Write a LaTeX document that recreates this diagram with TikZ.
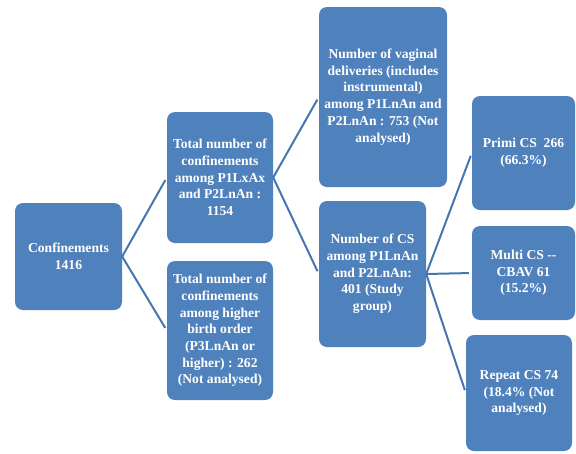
\documentclass[tikz,border=0pt]{standalone}
\usepackage{fontspec}
\setmainfont{Liberation Serif}
\usetikzlibrary{positioning}
\definecolor{boxblue}{HTML}{4F81BD}
\definecolor{lineblue}{HTML}{4676B0}

\begin{document}
\begin{tikzpicture}[x=1pt,y=-1pt,
  box/.style={fill=boxblue, rounded corners=8pt, text=white, align=center,
    inner sep=0pt, font=\fontsize{13.6}{16.7}\selectfont\bfseries},
  link/.style={draw=lineblue, line width=2pt, shorten >=3pt}]
  \useasboundingbox (0,0) rectangle (576,453);
  % first level
  \node[box, minimum width=107pt, minimum height=107pt] (conf) at (68.5,256.5) {Confinements\\1416};
  % second level
  \node[box, minimum width=106pt, minimum height=131pt] (lowbo) at (220,177.5)
    {Total number of\\confinements\\among P1LxAx\\and P2LnAn :\\1154};
  \node[box, minimum width=106pt, minimum height=139pt] (highbo) at (220,330.5)
    {Total number of\\confinements\\among higher\\birth order\\(P3LnAn or\\higher) : 262\\(Not analysed)};
  % third level
  \node[box, minimum width=128pt, minimum height=180pt] (vag) at (383,97)
    {Number of vaginal\\deliveries (includes\\instrumental)\\among P1LnAn and\\P2LnAn : 753 (Not\\analysed)};
  \node[box, minimum width=107pt, minimum height=146pt] (cs) at (372.5,274)
    {Number of CS\\among P1LnAn\\and P2LnAn:\\401 (Study\\group)};
  % fourth level
  \node[box, minimum width=103pt, minimum height=114pt] (primi) at (523.5,153)
    {Primi CS~ 266\\(66.3\%)};
  \node[box, minimum width=103pt, minimum height=94pt] (multi) at (523.5,273)
    {Multi CS -{}-\\CBAV 61\\(15.2\%)};
  \node[box, minimum width=106pt, minimum height=116pt] (rep) at (519,393)
    {Repeat CS 74\\(18.4\% (Not\\analysed)};

  \draw[link] (conf.east) -- (lowbo.west);
  \draw[link] (conf.east) -- (highbo.west);
  \draw[link] (lowbo.east) -- (vag.west);
  \draw[link] (lowbo.east) -- (cs.west);
  \draw[link] (cs.east) -- (primi.west);
  \draw[link] (cs.east) -- (multi.west);
  \draw[link] (cs.east) -- (rep.west);
\end{tikzpicture}
\end{document}
